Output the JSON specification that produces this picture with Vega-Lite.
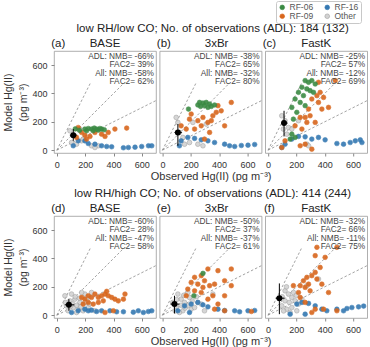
{
  "$schema": "https://vega.github.io/schema/vega-lite/v6.json",
  "padding": {"left": 3, "top": 0, "right": 2, "bottom": 1},
  "config": {
    "font": "Liberation Sans",
    "view": {"stroke": "#9a9a9a", "strokeWidth": 0.8},
    "axis": {"grid": false, "domain": false, "labelOverlap": false, "labelFlush": false, "tickCount": 10, "tickColor": "#888", "tickSize": 3, "labelFontSize": 9, "labelColor": "#333", "labelPadding": 4, "titleFontWeight": "normal", "titleColor": "#333", "titleFontSize": 11, "titlePadding": 1},
    "circle": {"size": 22, "opacity": 0.9, "strokeWidth": 0.6},
    "legend": {"orient": "none", "legendX": 222, "legendY": -50, "direction": "horizontal", "columns": 2, "labelFontSize": 8.5, "labelColor": "#555", "symbolSize": 22, "symbolStrokeWidth": 1, "strokeColor": "#c8c8c8", "fillColor": "white", "padding": 2, "rowPadding": 0, "columnPadding": 9, "labelOffset": 3, "cornerRadius": 2}
  },
  "datasets": {
    "ref": [
      {"r": "2:1", "x": 0, "y": 0}, {"r": "2:1", "x": 235, "y": 470},
      {"r": "1:1", "x": 0, "y": 0}, {"r": "1:1", "x": 470, "y": 470},
      {"r": "1:2", "x": 0, "y": 0}, {"r": "1:2", "x": 700, "y": 350}
    ],
    "ms": [
      {"p": "a", "x": 116, "y": 106, "xlo": 92, "xhi": 139, "ylo": 66, "yhi": 149},
      {"p": "b", "x": 109, "y": 125, "xlo": 85, "xhi": 137, "ylo": 31, "yhi": 184},
      {"p": "c", "x": 113, "y": 191, "xlo": 92, "xhi": 139, "ylo": 97, "yhi": 278},
      {"p": "d", "x": 85, "y": 73, "xlo": 57, "xhi": 123, "ylo": 31, "yhi": 113},
      {"p": "e", "x": 85, "y": 78, "xlo": 57, "xhi": 120, "ylo": 12, "yhi": 137},
      {"p": "f", "x": 80, "y": 120, "xlo": 54, "xhi": 116, "ylo": 7, "yhi": 224}
    ],
    "ann": [
      {"p": "a", "id": "(a)", "n": "BASE", "t": "ADL: NMB= -66%\nFAC2=  39%\nAll: NMB= -58%\nFAC2=  62%"},
      {"p": "b", "id": "(b)", "n": "3xBr", "t": "ADL: NMB= -38%\nFAC2=  65%\nAll: NMB= -32%\nFAC2=  80%", "rt": "low RH/low CO; No. of observations (ADL): 184 (132)"},
      {"p": "c", "id": "(c)", "n": "FastK", "t": "ADL: NMB= -25%\nFAC2=  57%\nAll: NMB= -12%\nFAC2=  69%"},
      {"p": "d", "id": "(d)", "n": "BASE", "t": "ADL: NMB= -60%\nFAC2=  28%\nAll: NMB= -47%\nFAC2=  58%"},
      {"p": "e", "id": "(e)", "n": "3xBr", "t": "ADL: NMB= -50%\nFAC2= 37%\nAll: NMB= -37%\nFAC2= 61%", "rt": "low RH/high CO; No. of observations (ADL): 414 (244)"},
      {"p": "f", "id": "(f)", "n": "FastK", "t": "ADL: NMB= -32%\nFAC2=  66%\nAll: NMB= -11%\nFAC2=  75%"}
    ],
    "pts": [
      {"p":"a","g":"Other","x":92,"y":137},{"p":"a","g":"Other","x":127,"y":101},{"p":"a","g":"Other","x":163,"y":149},{"p":"a","g":"Other","x":175,"y":66},{"p":"a","g":"Other","x":186,"y":78},{"p":"a","g":"Other","x":245,"y":31},{"p":"a","g":"Other","x":293,"y":31},{"p":"a","g":"Other","x":269,"y":19},{"p":"a","g":"Other","x":104,"y":54},{"p":"a","g":"Other","x":139,"y":42},
      {"p":"a","g":"RF-16","x":116,"y":31},{"p":"a","g":"RF-16","x":151,"y":66},{"p":"a","g":"RF-16","x":198,"y":66},{"p":"a","g":"RF-16","x":222,"y":47},{"p":"a","g":"RF-16","x":269,"y":42},{"p":"a","g":"RF-16","x":316,"y":31},{"p":"a","g":"RF-16","x":352,"y":26},{"p":"a","g":"RF-16","x":387,"y":24},{"p":"a","g":"RF-16","x":470,"y":17},{"p":"a","g":"RF-16","x":505,"y":19},{"p":"a","g":"RF-16","x":552,"y":21},{"p":"a","g":"RF-16","x":599,"y":26},{"p":"a","g":"RF-16","x":647,"y":31},{"p":"a","g":"RF-16","x":670,"y":31},
      {"p":"a","g":"RF-09","x":493,"y":156},{"p":"a","g":"RF-09","x":410,"y":149},{"p":"a","g":"RF-09","x":363,"y":125},{"p":"a","g":"RF-09","x":316,"y":113},{"p":"a","g":"RF-09","x":269,"y":125},{"p":"a","g":"RF-09","x":198,"y":106},{"p":"a","g":"RF-09","x":175,"y":125},{"p":"a","g":"RF-09","x":151,"y":160},{"p":"a","g":"RF-09","x":139,"y":90},{"p":"a","g":"RF-09","x":340,"y":97},{"p":"a","g":"RF-09","x":234,"y":97},{"p":"a","g":"RF-09","x":210,"y":78},
      {"p":"a","g":"RF-06","x":198,"y":149},{"p":"a","g":"RF-06","x":222,"y":153},{"p":"a","g":"RF-06","x":245,"y":149},{"p":"a","g":"RF-06","x":264,"y":156},{"p":"a","g":"RF-06","x":281,"y":149},{"p":"a","g":"RF-06","x":293,"y":142},{"p":"a","g":"RF-06","x":316,"y":149},{"p":"a","g":"RF-06","x":335,"y":144},{"p":"a","g":"RF-06","x":210,"y":137},{"p":"a","g":"RF-06","x":257,"y":137},{"p":"a","g":"RF-06","x":304,"y":153},{"p":"a","g":"RF-06","x":130,"y":150},{"p":"a","g":"RF-06","x":160,"y":140},

      {"p":"b","g":"Other","x":109,"y":196},{"p":"b","g":"Other","x":120,"y":125},{"p":"b","g":"Other","x":144,"y":90},{"p":"b","g":"Other","x":156,"y":42},{"p":"b","g":"Other","x":191,"y":54},{"p":"b","g":"Other","x":250,"y":42},{"p":"b","g":"Other","x":286,"y":31},{"p":"b","g":"Other","x":97,"y":231},{"p":"b","g":"Other","x":215,"y":196},{"p":"b","g":"Other","x":309,"y":184},
      {"p":"b","g":"RF-16","x":132,"y":66},{"p":"b","g":"RF-16","x":179,"y":90},{"p":"b","g":"RF-16","x":227,"y":83},{"p":"b","g":"RF-16","x":274,"y":73},{"p":"b","g":"RF-16","x":321,"y":66},{"p":"b","g":"RF-16","x":368,"y":54},{"p":"b","g":"RF-16","x":439,"y":42},{"p":"b","g":"RF-16","x":474,"y":31},{"p":"b","g":"RF-16","x":510,"y":26},{"p":"b","g":"RF-16","x":557,"y":33},{"p":"b","g":"RF-16","x":604,"y":35},{"p":"b","g":"RF-16","x":651,"y":40},{"p":"b","g":"RF-16","x":120,"y":31},
      {"p":"b","g":"RF-09","x":486,"y":337},{"p":"b","g":"RF-09","x":392,"y":314},{"p":"b","g":"RF-09","x":380,"y":267},{"p":"b","g":"RF-09","x":415,"y":278},{"p":"b","g":"RF-09","x":203,"y":255},{"p":"b","g":"RF-09","x":191,"y":219},{"p":"b","g":"RF-09","x":250,"y":208},{"p":"b","g":"RF-09","x":286,"y":231},{"p":"b","g":"RF-09","x":321,"y":196},{"p":"b","g":"RF-09","x":345,"y":208},{"p":"b","g":"RF-09","x":274,"y":172},{"p":"b","g":"RF-09","x":227,"y":149},{"p":"b","g":"RF-09","x":168,"y":149},{"p":"b","g":"RF-09","x":132,"y":172},{"p":"b","g":"RF-09","x":333,"y":125},{"p":"b","g":"RF-09","x":297,"y":78},{"p":"b","g":"RF-09","x":439,"y":172},{"p":"b","g":"RF-09","x":356,"y":243},
      {"p":"b","g":"RF-06","x":262,"y":337},{"p":"b","g":"RF-06","x":286,"y":333},{"p":"b","g":"RF-06","x":309,"y":337},{"p":"b","g":"RF-06","x":333,"y":326},{"p":"b","g":"RF-06","x":297,"y":314},{"p":"b","g":"RF-06","x":269,"y":309},{"p":"b","g":"RF-06","x":321,"y":302},{"p":"b","g":"RF-06","x":345,"y":309},{"p":"b","g":"RF-06","x":250,"y":319},{"p":"b","g":"RF-06","x":184,"y":290},{"p":"b","g":"RF-06","x":368,"y":319},

      {"p":"c","g":"Other","x":97,"y":243},{"p":"c","g":"Other","x":120,"y":208},{"p":"c","g":"Other","x":144,"y":160},{"p":"c","g":"Other","x":132,"y":113},{"p":"c","g":"Other","x":168,"y":149},{"p":"c","g":"Other","x":108,"y":149},{"p":"c","g":"Other","x":215,"y":208},{"p":"c","g":"Other","x":274,"y":42},{"p":"c","g":"Other","x":286,"y":31},
      {"p":"c","g":"RF-16","x":168,"y":78},{"p":"c","g":"RF-16","x":215,"y":97},{"p":"c","g":"RF-16","x":262,"y":94},{"p":"c","g":"RF-16","x":309,"y":78},{"p":"c","g":"RF-16","x":356,"y":90},{"p":"c","g":"RF-16","x":403,"y":73},{"p":"c","g":"RF-16","x":486,"y":47},{"p":"c","g":"RF-16","x":533,"y":42},{"p":"c","g":"RF-16","x":580,"y":54},{"p":"c","g":"RF-16","x":616,"y":66},{"p":"c","g":"RF-16","x":651,"y":73},{"p":"c","g":"RF-16","x":663,"y":54},{"p":"c","g":"RF-16","x":97,"y":19},{"p":"c","g":"RF-16","x":120,"y":42},
      {"p":"c","g":"RF-09","x":474,"y":491},{"p":"c","g":"RF-09","x":356,"y":479},{"p":"c","g":"RF-09","x":368,"y":408},{"p":"c","g":"RF-09","x":345,"y":385},{"p":"c","g":"RF-09","x":309,"y":361},{"p":"c","g":"RF-09","x":286,"y":290},{"p":"c","g":"RF-09","x":297,"y":243},{"p":"c","g":"RF-09","x":262,"y":231},{"p":"c","g":"RF-09","x":274,"y":196},{"p":"c","g":"RF-09","x":239,"y":149},{"p":"c","g":"RF-09","x":227,"y":231},{"p":"c","g":"RF-09","x":191,"y":172},{"p":"c","g":"RF-09","x":356,"y":337},{"p":"c","g":"RF-09","x":380,"y":290},{"p":"c","g":"RF-09","x":333,"y":196},{"p":"c","g":"RF-09","x":120,"y":66},{"p":"c","g":"RF-09","x":97,"y":19},{"p":"c","g":"RF-09","x":227,"y":31},{"p":"c","g":"RF-09","x":262,"y":42},{"p":"c","g":"RF-09","x":309,"y":7},{"p":"c","g":"RF-09","x":427,"y":302},{"p":"c","g":"RF-09","x":392,"y":372},
      {"p":"c","g":"RF-06","x":262,"y":491},{"p":"c","g":"RF-06","x":286,"y":479},{"p":"c","g":"RF-06","x":309,"y":491},{"p":"c","g":"RF-06","x":333,"y":467},{"p":"c","g":"RF-06","x":239,"y":444},{"p":"c","g":"RF-06","x":274,"y":432},{"p":"c","g":"RF-06","x":297,"y":420},{"p":"c","g":"RF-06","x":321,"y":408},{"p":"c","g":"RF-06","x":215,"y":408},{"p":"c","g":"RF-06","x":250,"y":385},{"p":"c","g":"RF-06","x":191,"y":361},{"p":"c","g":"RF-06","x":227,"y":337},{"p":"c","g":"RF-06","x":168,"y":302},{"p":"c","g":"RF-06","x":262,"y":314},{"p":"c","g":"RF-06","x":203,"y":267},{"p":"c","g":"RF-06","x":179,"y":219},{"p":"c","g":"RF-06","x":168,"y":113},{"p":"c","g":"RF-06","x":156,"y":78},{"p":"c","g":"RF-06","x":191,"y":90},

      {"p":"d","g":"Other","x":57,"y":137},{"p":"d","g":"Other","x":92,"y":101},{"p":"d","g":"Other","x":127,"y":113},{"p":"d","g":"Other","x":163,"y":90},{"p":"d","g":"Other","x":116,"y":54},{"p":"d","g":"Other","x":151,"y":42},{"p":"d","g":"Other","x":186,"y":31},{"p":"d","g":"Other","x":222,"y":54},{"p":"d","g":"Other","x":80,"y":31},{"p":"d","g":"Other","x":198,"y":149},{"p":"d","g":"Other","x":245,"y":160},{"p":"d","g":"Other","x":269,"y":31},{"p":"d","g":"Other","x":139,"y":19},{"p":"d","g":"Other","x":68,"y":66},{"p":"d","g":"Other","x":104,"y":149},{"p":"d","g":"Other","x":175,"y":160},{"p":"d","g":"Other","x":110,"y":80},{"p":"d","g":"Other","x":140,"y":70},{"p":"d","g":"Other","x":170,"y":60},{"p":"d","g":"Other","x":200,"y":90},{"p":"d","g":"Other","x":230,"y":80},{"p":"d","g":"Other","x":95,"y":60},{"p":"d","g":"Other","x":130,"y":130},{"p":"d","g":"Other","x":160,"y":120},{"p":"d","g":"Other","x":60,"y":90},{"p":"d","g":"Other","x":210,"y":120},
      {"p":"d","g":"RF-16","x":104,"y":19},{"p":"d","g":"RF-16","x":151,"y":31},{"p":"d","g":"RF-16","x":198,"y":42},{"p":"d","g":"RF-16","x":222,"y":31},{"p":"d","g":"RF-16","x":245,"y":35},{"p":"d","g":"RF-16","x":281,"y":26},{"p":"d","g":"RF-16","x":316,"y":31},{"p":"d","g":"RF-16","x":375,"y":31},{"p":"d","g":"RF-16","x":422,"y":24},{"p":"d","g":"RF-16","x":470,"y":24},{"p":"d","g":"RF-16","x":540,"y":21},{"p":"d","g":"RF-16","x":575,"y":31},{"p":"d","g":"RF-16","x":611,"y":19},{"p":"d","g":"RF-16","x":646,"y":26},{"p":"d","g":"RF-16","x":670,"y":31},
      {"p":"d","g":"RF-09","x":175,"y":125},{"p":"d","g":"RF-09","x":198,"y":113},{"p":"d","g":"RF-09","x":222,"y":137},{"p":"d","g":"RF-09","x":245,"y":125},{"p":"d","g":"RF-09","x":269,"y":149},{"p":"d","g":"RF-09","x":293,"y":125},{"p":"d","g":"RF-09","x":316,"y":137},{"p":"d","g":"RF-09","x":340,"y":149},{"p":"d","g":"RF-09","x":363,"y":137},{"p":"d","g":"RF-09","x":387,"y":125},{"p":"d","g":"RF-09","x":410,"y":113},{"p":"d","g":"RF-09","x":481,"y":149},{"p":"d","g":"RF-09","x":434,"y":101},{"p":"d","g":"RF-09","x":222,"y":90},{"p":"d","g":"RF-09","x":257,"y":78},{"p":"d","g":"RF-09","x":293,"y":90},{"p":"d","g":"RF-09","x":328,"y":101},{"p":"d","g":"RF-09","x":186,"y":78},{"p":"d","g":"RF-09","x":399,"y":31},{"p":"d","g":"RF-09","x":340,"y":19},{"p":"d","g":"RF-09","x":470,"y":113},{"p":"d","g":"RF-09","x":352,"y":168},

      {"p":"e","g":"Other","x":109,"y":149},{"p":"e","g":"Other","x":132,"y":113},{"p":"e","g":"Other","x":156,"y":90},{"p":"e","g":"Other","x":179,"y":66},{"p":"e","g":"Other","x":203,"y":42},{"p":"e","g":"Other","x":144,"y":31},{"p":"e","g":"Other","x":97,"y":54},{"p":"e","g":"Other","x":120,"y":19},{"p":"e","g":"Other","x":227,"y":54},{"p":"e","g":"Other","x":250,"y":90},{"p":"e","g":"Other","x":356,"y":149},{"p":"e","g":"Other","x":297,"y":31},{"p":"e","g":"Other","x":73,"y":90},{"p":"e","g":"Other","x":191,"y":125},{"p":"e","g":"Other","x":274,"y":78},{"p":"e","g":"Other","x":100,"y":110},{"p":"e","g":"Other","x":150,"y":140},{"p":"e","g":"Other","x":210,"y":100},{"p":"e","g":"Other","x":240,"y":130},{"p":"e","g":"Other","x":180,"y":160},{"p":"e","g":"Other","x":130,"y":70},{"p":"e","g":"Other","x":160,"y":50},{"p":"e","g":"Other","x":90,"y":30},
      {"p":"e","g":"RF-16","x":156,"y":66},{"p":"e","g":"RF-16","x":203,"y":78},{"p":"e","g":"RF-16","x":250,"y":90},{"p":"e","g":"RF-16","x":286,"y":73},{"p":"e","g":"RF-16","x":321,"y":59},{"p":"e","g":"RF-16","x":392,"y":42},{"p":"e","g":"RF-16","x":439,"y":33},{"p":"e","g":"RF-16","x":510,"y":31},{"p":"e","g":"RF-16","x":545,"y":24},{"p":"e","g":"RF-16","x":604,"y":31},{"p":"e","g":"RF-16","x":651,"y":33},{"p":"e","g":"RF-16","x":109,"y":31},{"p":"e","g":"RF-16","x":191,"y":19},
      {"p":"e","g":"RF-09","x":486,"y":326},{"p":"e","g":"RF-09","x":439,"y":243},{"p":"e","g":"RF-09","x":392,"y":314},{"p":"e","g":"RF-09","x":321,"y":326},{"p":"e","g":"RF-09","x":274,"y":279},{"p":"e","g":"RF-09","x":227,"y":267},{"p":"e","g":"RF-09","x":203,"y":231},{"p":"e","g":"RF-09","x":250,"y":219},{"p":"e","g":"RF-09","x":297,"y":243},{"p":"e","g":"RF-09","x":333,"y":208},{"p":"e","g":"RF-09","x":368,"y":219},{"p":"e","g":"RF-09","x":227,"y":172},{"p":"e","g":"RF-09","x":179,"y":184},{"p":"e","g":"RF-09","x":274,"y":160},{"p":"e","g":"RF-09","x":356,"y":137},{"p":"e","g":"RF-09","x":321,"y":113},{"p":"e","g":"RF-09","x":439,"y":137},{"p":"e","g":"RF-09","x":486,"y":208},{"p":"e","g":"RF-09","x":286,"y":196},{"p":"e","g":"RF-09","x":168,"y":137},{"p":"e","g":"RF-09","x":392,"y":78},{"p":"e","g":"RF-09","x":439,"y":31},{"p":"e","g":"RF-09","x":628,"y":26},{"p":"e","g":"RF-09","x":368,"y":42},
      {"p":"e","g":"RF-06","x":286,"y":295},{"p":"e","g":"RF-06","x":222,"y":137},

      {"p":"f","g":"Other","x":120,"y":172},{"p":"f","g":"Other","x":144,"y":149},{"p":"f","g":"Other","x":168,"y":125},{"p":"f","g":"Other","x":191,"y":101},{"p":"f","g":"Other","x":120,"y":101},{"p":"f","g":"Other","x":97,"y":66},{"p":"f","g":"Other","x":132,"y":42},{"p":"f","g":"Other","x":168,"y":54},{"p":"f","g":"Other","x":215,"y":78},{"p":"f","g":"Other","x":203,"y":31},{"p":"f","g":"Other","x":156,"y":19},{"p":"f","g":"Other","x":239,"y":113},{"p":"f","g":"Other","x":274,"y":208},{"p":"f","g":"Other","x":356,"y":255},{"p":"f","g":"Other","x":100,"y":130},{"p":"f","g":"Other","x":150,"y":90},{"p":"f","g":"Other","x":180,"y":160},{"p":"f","g":"Other","x":130,"y":200},{"p":"f","g":"Other","x":110,"y":30},{"p":"f","g":"Other","x":200,"y":140},
      {"p":"f","g":"RF-16","x":203,"y":78},{"p":"f","g":"RF-16","x":239,"y":90},{"p":"f","g":"RF-16","x":286,"y":83},{"p":"f","g":"RF-16","x":333,"y":66},{"p":"f","g":"RF-16","x":380,"y":42},{"p":"f","g":"RF-16","x":415,"y":31},{"p":"f","g":"RF-16","x":486,"y":42},{"p":"f","g":"RF-16","x":533,"y":31},{"p":"f","g":"RF-16","x":557,"y":47},{"p":"f","g":"RF-16","x":592,"y":54},{"p":"f","g":"RF-16","x":639,"y":59},{"p":"f","g":"RF-16","x":675,"y":64},{"p":"f","g":"RF-16","x":156,"y":7},{"p":"f","g":"RF-16","x":262,"y":7},
      {"p":"f","g":"RF-09","x":345,"y":479},{"p":"f","g":"RF-09","x":486,"y":479},{"p":"f","g":"RF-09","x":333,"y":420},{"p":"f","g":"RF-09","x":403,"y":408},{"p":"f","g":"RF-09","x":368,"y":337},{"p":"f","g":"RF-09","x":333,"y":302},{"p":"f","g":"RF-09","x":309,"y":279},{"p":"f","g":"RF-09","x":274,"y":267},{"p":"f","g":"RF-09","x":250,"y":243},{"p":"f","g":"RF-09","x":286,"y":219},{"p":"f","g":"RF-09","x":345,"y":255},{"p":"f","g":"RF-09","x":380,"y":219},{"p":"f","g":"RF-09","x":427,"y":160},{"p":"f","g":"RF-09","x":297,"y":172},{"p":"f","g":"RF-09","x":262,"y":196},{"p":"f","g":"RF-09","x":227,"y":208},{"p":"f","g":"RF-09","x":215,"y":160},{"p":"f","g":"RF-09","x":179,"y":208},{"p":"f","g":"RF-09","x":262,"y":90},{"p":"f","g":"RF-09","x":309,"y":19},{"p":"f","g":"RF-09","x":333,"y":42},{"p":"f","g":"RF-09","x":227,"y":125},{"p":"f","g":"RF-09","x":392,"y":42},{"p":"f","g":"RF-09","x":486,"y":31}
    ]
  },
  "spacing": 5,
  "vconcat": [
    {
      "bounds": "flush",
      "spacing": 3.6,
      "hconcat": [
        {
          "width": 102, "height": 102,
          "layer": [
            {"data": {"name": "ref"}, "mark": {"type": "line", "stroke": "#8a8a8a", "strokeWidth": 0.8, "strokeDash": [2.5, 2]},
             "encoding": {
               "x": {"field": "x", "type": "quantitative", "scale": {"domain": [-20, 700], "nice": false, "zero": false}, "axis": {"values": [0, 200, 400, 600], "tickCount": 10, "title": null}},
               "y": {"field": "y", "type": "quantitative", "scale": {"domain": [-20, 700], "nice": false, "zero": false}, "axis": {"values": [0, 200, 400, 600], "tickCount": 10, "title": ["Model Hg(II)", "(pg m⁻³)"], "titleFontSize": 10.5, "titleLineHeight": 15, "titlePadding": 3}},
               "detail": {"field": "r", "type": "nominal"}}},
            {"data": {"name": "pts"}, "transform": [{"filter": "datum.p === 'a'"}], "mark": {"type": "circle"},
             "encoding": {
               "x": {"field": "x", "type": "quantitative"}, "y": {"field": "y", "type": "quantitative"},
               "color": {"field": "g", "type": "nominal", "title": null, "scale": {"domain": ["RF-06", "RF-16", "RF-09", "Other"], "range": ["#3a8a43", "#3478b2", "#d8661c", "#d2d2d2"]}},
               "stroke": {"field": "g", "type": "nominal", "title": null, "scale": {"domain": ["RF-06", "RF-16", "RF-09", "Other"], "range": ["#3a8a43", "#3478b2", "#d8661c", "#9d9d9d"]}}}},
            {"data": {"name": "ms"}, "transform": [{"filter": "datum.p === 'a'"}], "mark": {"type": "rule", "color": "black", "strokeWidth": 1},
             "encoding": {"x": {"field": "xlo", "type": "quantitative"}, "x2": {"field": "xhi"}, "y": {"field": "y", "type": "quantitative"}}},
            {"data": {"name": "ms"}, "transform": [{"filter": "datum.p === 'a'"}], "mark": {"type": "rule", "color": "black", "strokeWidth": 1},
             "encoding": {"x": {"field": "x", "type": "quantitative"}, "y": {"field": "ylo", "type": "quantitative"}, "y2": {"field": "yhi"}}},
            {"data": {"name": "ms"}, "transform": [{"filter": "datum.p === 'a'"}], "mark": {"type": "circle", "color": "black", "size": 36, "opacity": 1},
             "encoding": {"x": {"field": "x", "type": "quantitative"}, "y": {"field": "y", "type": "quantitative"}}},
            {"data": {"name": "ann"}, "transform": [{"filter": "datum.p === 'a'"}], "mark": {"type": "text", "align": "right", "baseline": "top", "lineBreak": "\n", "fontSize": 8.3, "lineHeight": 8.4, "dx": -2, "dy": 1, "color": "#444"},
             "encoding": {"x": {"datum": 700}, "y": {"datum": 700}, "text": {"field": "t"}}},
            {"data": {"name": "ann"}, "transform": [{"filter": "datum.p === 'a'"}], "mark": {"type": "text", "align": "center", "baseline": "alphabetic", "fontSize": 11.5, "dy": -4, "color": "#222"},
             "encoding": {"x": {"datum": 10}, "y": {"datum": 700}, "text": {"field": "id"}}},
            {"data": {"name": "ann"}, "transform": [{"filter": "datum.p === 'a'"}], "mark": {"type": "text", "align": "center", "baseline": "alphabetic", "fontSize": 11.5, "dy": -4, "color": "#222"},
             "encoding": {"x": {"datum": 340}, "y": {"datum": 700}, "text": {"field": "n"}}}
          ]
        },
        {
          "width": 102, "height": 102,
          "layer": [
            {"data": {"name": "ref"}, "mark": {"type": "line", "stroke": "#8a8a8a", "strokeWidth": 0.8, "strokeDash": [2.5, 2]},
             "encoding": {
               "x": {"field": "x", "type": "quantitative", "scale": {"domain": [-20, 700], "nice": false, "zero": false}, "axis": {"values": [0, 200, 400, 600], "tickCount": 10, "title": "Observed Hg(II) (pg m⁻³)"}},
               "y": {"field": "y", "type": "quantitative", "scale": {"domain": [-20, 700], "nice": false, "zero": false}, "axis": {"labels": false, "ticks": false, "title": null}},
               "detail": {"field": "r", "type": "nominal"}}},
            {"data": {"name": "pts"}, "transform": [{"filter": "datum.p === 'b'"}], "mark": {"type": "circle"},
             "encoding": {
               "x": {"field": "x", "type": "quantitative"}, "y": {"field": "y", "type": "quantitative"},
               "color": {"field": "g", "type": "nominal", "title": null, "scale": {"domain": ["RF-06", "RF-16", "RF-09", "Other"], "range": ["#3a8a43", "#3478b2", "#d8661c", "#d2d2d2"]}},
               "stroke": {"field": "g", "type": "nominal", "title": null, "scale": {"domain": ["RF-06", "RF-16", "RF-09", "Other"], "range": ["#3a8a43", "#3478b2", "#d8661c", "#9d9d9d"]}}}},
            {"data": {"name": "ms"}, "transform": [{"filter": "datum.p === 'b'"}], "mark": {"type": "rule", "color": "black", "strokeWidth": 1},
             "encoding": {"x": {"field": "xlo", "type": "quantitative"}, "x2": {"field": "xhi"}, "y": {"field": "y", "type": "quantitative"}}},
            {"data": {"name": "ms"}, "transform": [{"filter": "datum.p === 'b'"}], "mark": {"type": "rule", "color": "black", "strokeWidth": 1},
             "encoding": {"x": {"field": "x", "type": "quantitative"}, "y": {"field": "ylo", "type": "quantitative"}, "y2": {"field": "yhi"}}},
            {"data": {"name": "ms"}, "transform": [{"filter": "datum.p === 'b'"}], "mark": {"type": "circle", "color": "black", "size": 36, "opacity": 1},
             "encoding": {"x": {"field": "x", "type": "quantitative"}, "y": {"field": "y", "type": "quantitative"}}},
            {"data": {"name": "ann"}, "transform": [{"filter": "datum.p === 'b'"}], "mark": {"type": "text", "align": "right", "baseline": "top", "lineBreak": "\n", "fontSize": 8.3, "lineHeight": 8.4, "dx": -2, "dy": 1, "color": "#444"},
             "encoding": {"x": {"datum": 700}, "y": {"datum": 700}, "text": {"field": "t"}}},
            {"data": {"name": "ann"}, "transform": [{"filter": "datum.p === 'b'"}], "mark": {"type": "text", "align": "center", "baseline": "alphabetic", "fontSize": 11.5, "dy": -4, "color": "#222"},
             "encoding": {"x": {"datum": 10}, "y": {"datum": 700}, "text": {"field": "id"}}},
            {"data": {"name": "ann"}, "transform": [{"filter": "datum.p === 'b'"}], "mark": {"type": "text", "align": "center", "baseline": "alphabetic", "fontSize": 11.5, "dy": -4, "dx": 6, "color": "#222"},
             "encoding": {"x": {"datum": 340}, "y": {"datum": 700}, "text": {"field": "n"}}},
            {"data": {"name": "ann"}, "transform": [{"filter": "datum.p === 'b'"}], "mark": {"type": "text", "align": "center", "baseline": "alphabetic", "fontSize": 11.5, "dy": -19, "dx": 2, "color": "#222"},
             "encoding": {"x": {"datum": 340}, "y": {"datum": 700}, "text": {"field": "rt"}}}
          ]
        },
        {
          "width": 102, "height": 102,
          "layer": [
            {"data": {"name": "ref"}, "mark": {"type": "line", "stroke": "#8a8a8a", "strokeWidth": 0.8, "strokeDash": [2.5, 2]},
             "encoding": {
               "x": {"field": "x", "type": "quantitative", "scale": {"domain": [-20, 700], "nice": false, "zero": false}, "axis": {"values": [0, 200, 400, 600], "tickCount": 10, "title": null}},
               "y": {"field": "y", "type": "quantitative", "scale": {"domain": [-20, 700], "nice": false, "zero": false}, "axis": {"labels": false, "ticks": false, "title": null}},
               "detail": {"field": "r", "type": "nominal"}}},
            {"data": {"name": "pts"}, "transform": [{"filter": "datum.p === 'c'"}], "mark": {"type": "circle"},
             "encoding": {
               "x": {"field": "x", "type": "quantitative"}, "y": {"field": "y", "type": "quantitative"},
               "color": {"field": "g", "type": "nominal", "title": null, "scale": {"domain": ["RF-06", "RF-16", "RF-09", "Other"], "range": ["#3a8a43", "#3478b2", "#d8661c", "#d2d2d2"]}},
               "stroke": {"field": "g", "type": "nominal", "title": null, "scale": {"domain": ["RF-06", "RF-16", "RF-09", "Other"], "range": ["#3a8a43", "#3478b2", "#d8661c", "#9d9d9d"]}}}},
            {"data": {"name": "ms"}, "transform": [{"filter": "datum.p === 'c'"}], "mark": {"type": "rule", "color": "black", "strokeWidth": 1},
             "encoding": {"x": {"field": "xlo", "type": "quantitative"}, "x2": {"field": "xhi"}, "y": {"field": "y", "type": "quantitative"}}},
            {"data": {"name": "ms"}, "transform": [{"filter": "datum.p === 'c'"}], "mark": {"type": "rule", "color": "black", "strokeWidth": 1},
             "encoding": {"x": {"field": "x", "type": "quantitative"}, "y": {"field": "ylo", "type": "quantitative"}, "y2": {"field": "yhi"}}},
            {"data": {"name": "ms"}, "transform": [{"filter": "datum.p === 'c'"}], "mark": {"type": "circle", "color": "black", "size": 36, "opacity": 1},
             "encoding": {"x": {"field": "x", "type": "quantitative"}, "y": {"field": "y", "type": "quantitative"}}},
            {"data": {"name": "ann"}, "transform": [{"filter": "datum.p === 'c'"}], "mark": {"type": "text", "align": "right", "baseline": "top", "lineBreak": "\n", "fontSize": 8.3, "lineHeight": 8.4, "dx": -2, "dy": 1, "color": "#444"},
             "encoding": {"x": {"datum": 700}, "y": {"datum": 700}, "text": {"field": "t"}}},
            {"data": {"name": "ann"}, "transform": [{"filter": "datum.p === 'c'"}], "mark": {"type": "text", "align": "center", "baseline": "alphabetic", "fontSize": 11.5, "dy": -4, "color": "#222"},
             "encoding": {"x": {"datum": 10}, "y": {"datum": 700}, "text": {"field": "id"}}},
            {"data": {"name": "ann"}, "transform": [{"filter": "datum.p === 'c'"}], "mark": {"type": "text", "align": "center", "baseline": "alphabetic", "fontSize": 11.5, "dy": -4, "color": "#222"},
             "encoding": {"x": {"datum": 340}, "y": {"datum": 700}, "text": {"field": "n"}}}
          ]
        }
      ]
    },
    {
      "bounds": "flush",
      "spacing": 3.6,
      "hconcat": [
        {
          "width": 102, "height": 102,
          "layer": [
            {"data": {"name": "ref"}, "mark": {"type": "line", "stroke": "#8a8a8a", "strokeWidth": 0.8, "strokeDash": [2.5, 2]},
             "encoding": {
               "x": {"field": "x", "type": "quantitative", "scale": {"domain": [-20, 700], "nice": false, "zero": false}, "axis": {"values": [0, 200, 400, 600], "tickCount": 10, "title": null}},
               "y": {"field": "y", "type": "quantitative", "scale": {"domain": [-20, 700], "nice": false, "zero": false}, "axis": {"values": [0, 200, 400, 600], "tickCount": 10, "title": ["Model Hg(II)", "(pg m⁻³)"], "titleFontSize": 10.5, "titleLineHeight": 15, "titlePadding": 3}},
               "detail": {"field": "r", "type": "nominal"}}},
            {"data": {"name": "pts"}, "transform": [{"filter": "datum.p === 'd'"}], "mark": {"type": "circle"},
             "encoding": {
               "x": {"field": "x", "type": "quantitative"}, "y": {"field": "y", "type": "quantitative"},
               "color": {"field": "g", "type": "nominal", "title": null, "scale": {"domain": ["RF-06", "RF-16", "RF-09", "Other"], "range": ["#3a8a43", "#3478b2", "#d8661c", "#d2d2d2"]}},
               "stroke": {"field": "g", "type": "nominal", "title": null, "scale": {"domain": ["RF-06", "RF-16", "RF-09", "Other"], "range": ["#3a8a43", "#3478b2", "#d8661c", "#9d9d9d"]}}}},
            {"data": {"name": "ms"}, "transform": [{"filter": "datum.p === 'd'"}], "mark": {"type": "rule", "color": "black", "strokeWidth": 1},
             "encoding": {"x": {"field": "xlo", "type": "quantitative"}, "x2": {"field": "xhi"}, "y": {"field": "y", "type": "quantitative"}}},
            {"data": {"name": "ms"}, "transform": [{"filter": "datum.p === 'd'"}], "mark": {"type": "rule", "color": "black", "strokeWidth": 1},
             "encoding": {"x": {"field": "x", "type": "quantitative"}, "y": {"field": "ylo", "type": "quantitative"}, "y2": {"field": "yhi"}}},
            {"data": {"name": "ms"}, "transform": [{"filter": "datum.p === 'd'"}], "mark": {"type": "circle", "color": "black", "size": 36, "opacity": 1},
             "encoding": {"x": {"field": "x", "type": "quantitative"}, "y": {"field": "y", "type": "quantitative"}}},
            {"data": {"name": "ann"}, "transform": [{"filter": "datum.p === 'd'"}], "mark": {"type": "text", "align": "right", "baseline": "top", "lineBreak": "\n", "fontSize": 8.3, "lineHeight": 8.4, "dx": -2, "dy": 1, "color": "#444"},
             "encoding": {"x": {"datum": 700}, "y": {"datum": 700}, "text": {"field": "t"}}},
            {"data": {"name": "ann"}, "transform": [{"filter": "datum.p === 'd'"}], "mark": {"type": "text", "align": "center", "baseline": "alphabetic", "fontSize": 11.5, "dy": -4, "color": "#222"},
             "encoding": {"x": {"datum": 10}, "y": {"datum": 700}, "text": {"field": "id"}}},
            {"data": {"name": "ann"}, "transform": [{"filter": "datum.p === 'd'"}], "mark": {"type": "text", "align": "center", "baseline": "alphabetic", "fontSize": 11.5, "dy": -4, "color": "#222"},
             "encoding": {"x": {"datum": 340}, "y": {"datum": 700}, "text": {"field": "n"}}}
          ]
        },
        {
          "width": 102, "height": 102,
          "layer": [
            {"data": {"name": "ref"}, "mark": {"type": "line", "stroke": "#8a8a8a", "strokeWidth": 0.8, "strokeDash": [2.5, 2]},
             "encoding": {
               "x": {"field": "x", "type": "quantitative", "scale": {"domain": [-20, 700], "nice": false, "zero": false}, "axis": {"values": [0, 200, 400, 600], "tickCount": 10, "title": "Observed Hg(II) (pg m⁻³)"}},
               "y": {"field": "y", "type": "quantitative", "scale": {"domain": [-20, 700], "nice": false, "zero": false}, "axis": {"labels": false, "ticks": false, "title": null}},
               "detail": {"field": "r", "type": "nominal"}}},
            {"data": {"name": "pts"}, "transform": [{"filter": "datum.p === 'e'"}], "mark": {"type": "circle"},
             "encoding": {
               "x": {"field": "x", "type": "quantitative"}, "y": {"field": "y", "type": "quantitative"},
               "color": {"field": "g", "type": "nominal", "title": null, "scale": {"domain": ["RF-06", "RF-16", "RF-09", "Other"], "range": ["#3a8a43", "#3478b2", "#d8661c", "#d2d2d2"]}},
               "stroke": {"field": "g", "type": "nominal", "title": null, "scale": {"domain": ["RF-06", "RF-16", "RF-09", "Other"], "range": ["#3a8a43", "#3478b2", "#d8661c", "#9d9d9d"]}}}},
            {"data": {"name": "ms"}, "transform": [{"filter": "datum.p === 'e'"}], "mark": {"type": "rule", "color": "black", "strokeWidth": 1},
             "encoding": {"x": {"field": "xlo", "type": "quantitative"}, "x2": {"field": "xhi"}, "y": {"field": "y", "type": "quantitative"}}},
            {"data": {"name": "ms"}, "transform": [{"filter": "datum.p === 'e'"}], "mark": {"type": "rule", "color": "black", "strokeWidth": 1},
             "encoding": {"x": {"field": "x", "type": "quantitative"}, "y": {"field": "ylo", "type": "quantitative"}, "y2": {"field": "yhi"}}},
            {"data": {"name": "ms"}, "transform": [{"filter": "datum.p === 'e'"}], "mark": {"type": "circle", "color": "black", "size": 36, "opacity": 1},
             "encoding": {"x": {"field": "x", "type": "quantitative"}, "y": {"field": "y", "type": "quantitative"}}},
            {"data": {"name": "ann"}, "transform": [{"filter": "datum.p === 'e'"}], "mark": {"type": "text", "align": "right", "baseline": "top", "lineBreak": "\n", "fontSize": 8.3, "lineHeight": 8.4, "dx": -2, "dy": 1, "color": "#444"},
             "encoding": {"x": {"datum": 700}, "y": {"datum": 700}, "text": {"field": "t"}}},
            {"data": {"name": "ann"}, "transform": [{"filter": "datum.p === 'e'"}], "mark": {"type": "text", "align": "center", "baseline": "alphabetic", "fontSize": 11.5, "dy": -4, "color": "#222"},
             "encoding": {"x": {"datum": 10}, "y": {"datum": 700}, "text": {"field": "id"}}},
            {"data": {"name": "ann"}, "transform": [{"filter": "datum.p === 'e'"}], "mark": {"type": "text", "align": "center", "baseline": "alphabetic", "fontSize": 11.5, "dy": -4, "dx": 6, "color": "#222"},
             "encoding": {"x": {"datum": 340}, "y": {"datum": 700}, "text": {"field": "n"}}},
            {"data": {"name": "ann"}, "transform": [{"filter": "datum.p === 'e'"}], "mark": {"type": "text", "align": "center", "baseline": "alphabetic", "fontSize": 11.5, "dy": -19, "dx": 2, "color": "#222"},
             "encoding": {"x": {"datum": 340}, "y": {"datum": 700}, "text": {"field": "rt"}}}
          ]
        },
        {
          "width": 102, "height": 102,
          "layer": [
            {"data": {"name": "ref"}, "mark": {"type": "line", "stroke": "#8a8a8a", "strokeWidth": 0.8, "strokeDash": [2.5, 2]},
             "encoding": {
               "x": {"field": "x", "type": "quantitative", "scale": {"domain": [-20, 700], "nice": false, "zero": false}, "axis": {"values": [0, 200, 400, 600], "tickCount": 10, "title": null}},
               "y": {"field": "y", "type": "quantitative", "scale": {"domain": [-20, 700], "nice": false, "zero": false}, "axis": {"labels": false, "ticks": false, "title": null}},
               "detail": {"field": "r", "type": "nominal"}}},
            {"data": {"name": "pts"}, "transform": [{"filter": "datum.p === 'f'"}], "mark": {"type": "circle"},
             "encoding": {
               "x": {"field": "x", "type": "quantitative"}, "y": {"field": "y", "type": "quantitative"},
               "color": {"field": "g", "type": "nominal", "title": null, "scale": {"domain": ["RF-06", "RF-16", "RF-09", "Other"], "range": ["#3a8a43", "#3478b2", "#d8661c", "#d2d2d2"]}},
               "stroke": {"field": "g", "type": "nominal", "title": null, "scale": {"domain": ["RF-06", "RF-16", "RF-09", "Other"], "range": ["#3a8a43", "#3478b2", "#d8661c", "#9d9d9d"]}}}},
            {"data": {"name": "ms"}, "transform": [{"filter": "datum.p === 'f'"}], "mark": {"type": "rule", "color": "black", "strokeWidth": 1},
             "encoding": {"x": {"field": "xlo", "type": "quantitative"}, "x2": {"field": "xhi"}, "y": {"field": "y", "type": "quantitative"}}},
            {"data": {"name": "ms"}, "transform": [{"filter": "datum.p === 'f'"}], "mark": {"type": "rule", "color": "black", "strokeWidth": 1},
             "encoding": {"x": {"field": "x", "type": "quantitative"}, "y": {"field": "ylo", "type": "quantitative"}, "y2": {"field": "yhi"}}},
            {"data": {"name": "ms"}, "transform": [{"filter": "datum.p === 'f'"}], "mark": {"type": "circle", "color": "black", "size": 36, "opacity": 1},
             "encoding": {"x": {"field": "x", "type": "quantitative"}, "y": {"field": "y", "type": "quantitative"}}},
            {"data": {"name": "ann"}, "transform": [{"filter": "datum.p === 'f'"}], "mark": {"type": "text", "align": "right", "baseline": "top", "lineBreak": "\n", "fontSize": 8.3, "lineHeight": 8.4, "dx": -2, "dy": 1, "color": "#444"},
             "encoding": {"x": {"datum": 700}, "y": {"datum": 700}, "text": {"field": "t"}}},
            {"data": {"name": "ann"}, "transform": [{"filter": "datum.p === 'f'"}], "mark": {"type": "text", "align": "center", "baseline": "alphabetic", "fontSize": 11.5, "dy": -4, "color": "#222"},
             "encoding": {"x": {"datum": 10}, "y": {"datum": 700}, "text": {"field": "id"}}},
            {"data": {"name": "ann"}, "transform": [{"filter": "datum.p === 'f'"}], "mark": {"type": "text", "align": "center", "baseline": "alphabetic", "fontSize": 11.5, "dy": -4, "color": "#222"},
             "encoding": {"x": {"datum": 340}, "y": {"datum": 700}, "text": {"field": "n"}}}
          ]
        }
      ]
    }
  ]
}
